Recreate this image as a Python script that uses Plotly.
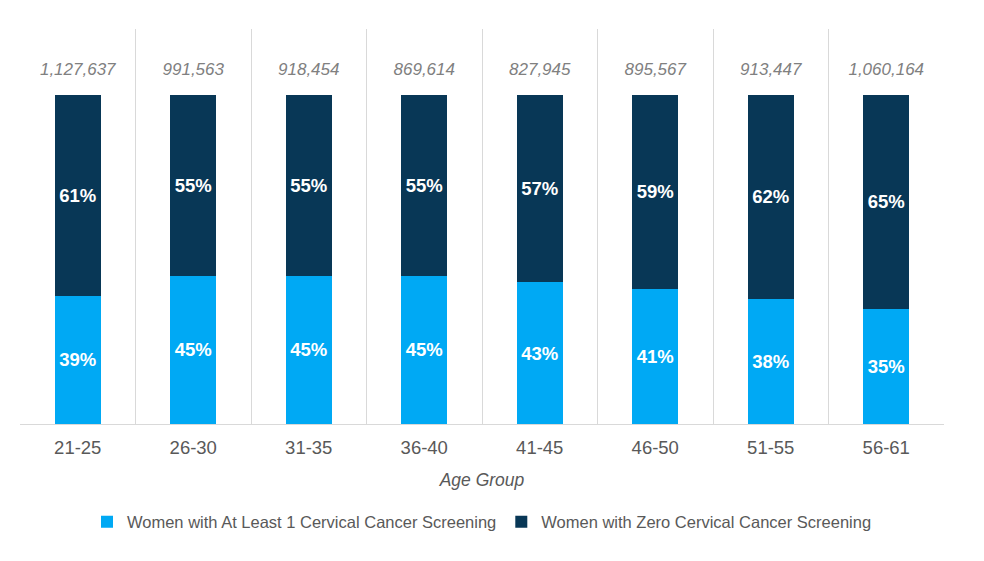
import plotly.graph_objects as go

categories = ["21-25", "26-30", "31-35", "36-40", "41-45", "46-50", "51-55", "56-61"]
at_least_one = [39, 45, 45, 45, 43, 41, 38, 35]
zero = [61, 55, 55, 55, 57, 59, 62, 65]
totals = ["1,127,637", "991,563", "918,454", "869,614", "827,945", "895,567", "913,447", "1,060,164"]
total_label_y = [107.2] * len(categories)

LIGHT = "#00A9F4"
DARK = "#083756"
FONT = "Liberation Sans, Arial, sans-serif"

fig = go.Figure()
fig.add_trace(go.Bar(
    x=categories, y=at_least_one, name="Women with At Least 1 Cervical Cancer Screening",
    marker=dict(color=LIGHT, line=dict(width=0)),
    text=[f"{v}%" for v in at_least_one], textposition="inside", insidetextanchor="middle",
    textfont=dict(color="white", size=18.5, family=FONT, weight="bold"), textangle=0,
    hoverinfo="skip",
))
fig.add_trace(go.Bar(
    x=categories, y=zero, name="Women with Zero Cervical Cancer Screening",
    marker=dict(color=DARK, line=dict(width=0)),
    text=[f"{v}%" for v in zero], textposition="inside", insidetextanchor="middle",
    textfont=dict(color="white", size=18.5, family=FONT, weight="bold"), textangle=0,
    hoverinfo="skip",
))
fig.add_trace(go.Scatter(
    x=categories, y=total_label_y, mode="text", text=totals,
    textfont=dict(color="#808080", size=17, family=FONT, style="italic"),
    showlegend=False, hoverinfo="skip",
))

fig.update_layout(
    barmode="stack", bargap=0.6,
    width=976, height=553,
    margin=dict(l=11.5, r=40, t=21, b=137),
    paper_bgcolor="white", plot_bgcolor="white",
    font=dict(family=FONT, color="#595959"),
    uniformtext=dict(minsize=8, mode="show"),
    legend=dict(orientation="h", x=0.5, xanchor="center", y=-0.248, yanchor="middle",
                font=dict(size=16.5, color="#595959"), itemwidth=30, traceorder="normal"),
    xaxis=dict(
        tickson="boundaries", showgrid=True, gridcolor="#D9D9D9", gridwidth=1,
        showline=True, linecolor="#D9D9D9", linewidth=1,
        ticks="", tickfont=dict(size=18.5, color="#595959"), ticklabelstandoff=7,
        title=dict(text="Age Group", font=dict(size=17.5, color="#595959", style="italic"), standoff=16),
    ),
    yaxis=dict(range=[0, 120], visible=False, showgrid=False, zeroline=False),
)

fig.write_html("out.html")
